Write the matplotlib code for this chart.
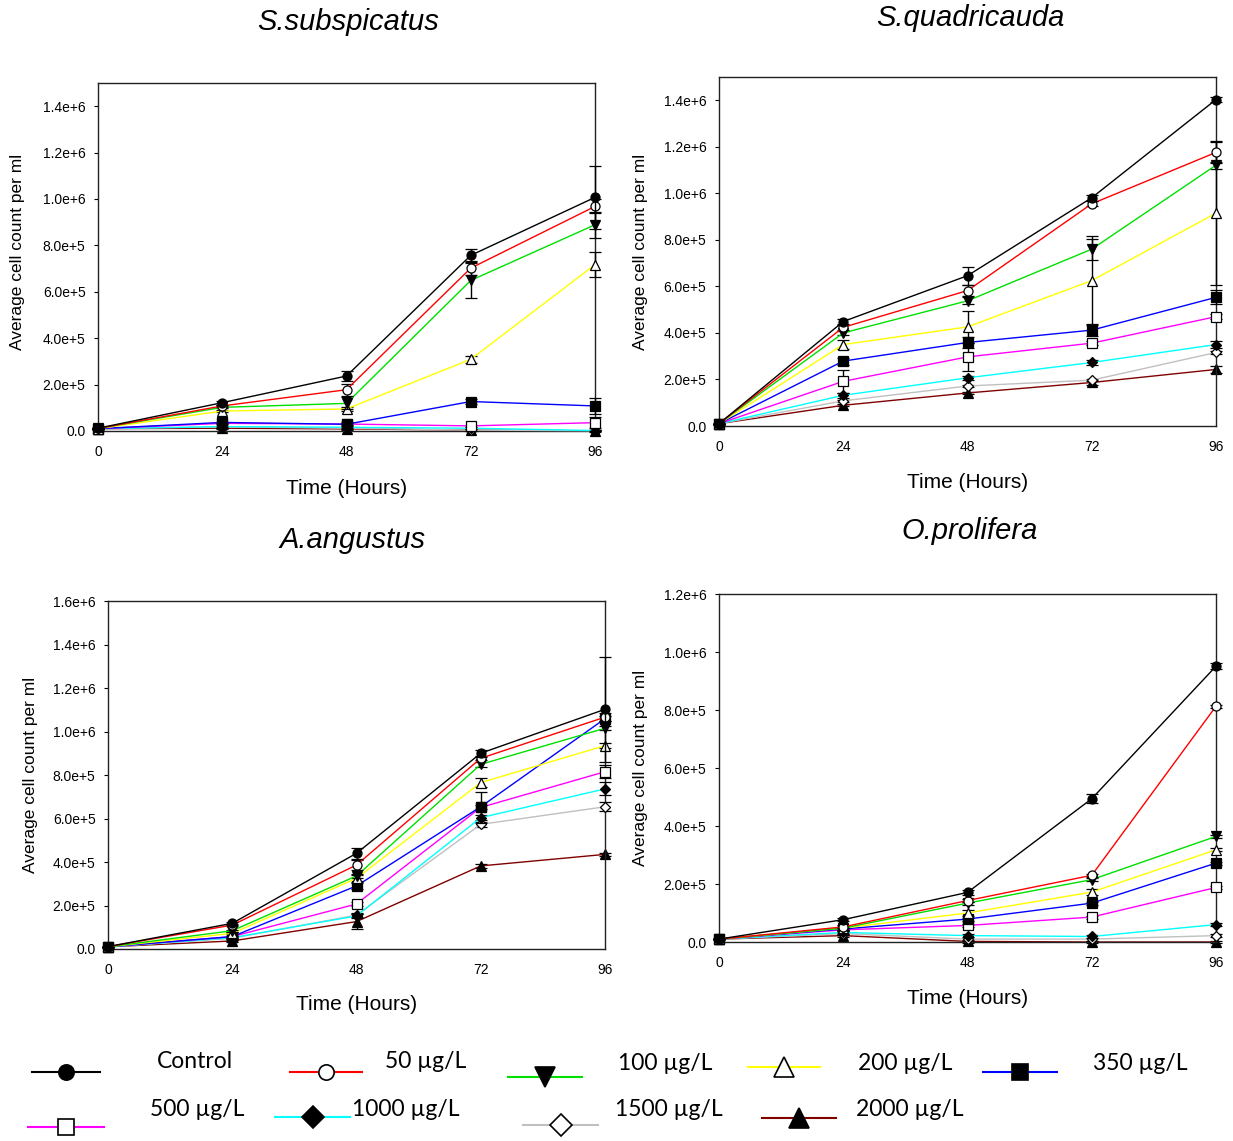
import matplotlib
matplotlib.use('Agg')
import matplotlib.pyplot as plt
from matplotlib.lines import Line2D
from matplotlib.ticker import FuncFormatter
import numpy as np

plt.rcParams['font.family'] = ['Liberation Sans', 'DejaVu Sans']

# data ---------------------------------------------------------------------
hours = [0, 24, 48, 72, 96]
labels = ['Control', '50 µg/L', '100 µg/L', '200 µg/L', '350 µg/L',
          '500 µg/L', '1000 µg/L', '1500 µg/L', '2000 µg/L']
colors = ['#000000', '#ff0000', '#00e000', '#ffff00', '#0000ff',
          '#ff00ff', '#00ffff', '#c0c0c0', '#800000']
markers = ['o', 'o', 'v', '^', 's', 's', 'D', 'D', '^']
faces = ['black', 'white', 'black', 'white', 'black',
         'white', 'black', 'white', 'black']

# S.subspicatus
ss_mean = [[1.2e4, 1.22e5, 2.37e5, 7.57e5, 1.007e6],
           [1.1e4, 1.08e5, 1.78e5, 7.02e5, 9.68e5],
           [1.1e4, 1.02e5, 1.19e5, 6.49e5, 8.89e5],
           [1.0e4, 8.6e4, 9.5e4, 3.09e5, 7.17e5],
           [1.0e4, 3.7e4, 2.9e4, 1.27e5, 1.08e5],
           [1.0e4, 3.3e4, 3.0e4, 2.2e4, 3.6e4],
           [1.0e4, 1.9e4, 1.6e4, 1.2e4, 2.0e3],
           [1.0e4, 1.8e4, 1.2e4, 4.0e3, 1.0e3],
           [1.0e4, 1.2e4, 9.0e3, 4.0e3, 0.0]]
ss_err = [[0, 8e3, 2.3e4, 2.8e4, 1.35e5],
          [0, 5e3, 2.5e4, 3.0e4, 3.0e4],
          [0, 5e3, 2.6e4, 7.5e4, 5.5e4],
          [0, 5e3, 1.0e4, 1.5e4, 5.5e4],
          [0, 3e3, 5e3, 1.0e4, 3.5e4],
          [0, 3e3, 1.0e4, 5e3, 2.5e4],
          [0, 3e3, 3e3, 3e3, 3e3],
          [0, 3e3, 3e3, 3e3, 3e3],
          [0, 3e3, 3e3, 3e3, 3e3]]

# S.quadricauda
sq_mean = [[1.0e4, 4.49e5, 6.46e5, 9.81e5, 1.403e6],
           [1.0e4, 4.24e5, 5.82e5, 9.55e5, 1.176e6],
           [1.0e4, 4.0e5, 5.38e5, 7.6e5, 1.121e6],
           [1.0e4, 3.5e5, 4.26e5, 6.25e5, 9.15e5],
           [1.0e4, 2.79e5, 3.59e5, 4.12e5, 5.53e5],
           [1.0e4, 1.92e5, 2.97e5, 3.56e5, 4.7e5],
           [1.0e4, 1.32e5, 2.07e5, 2.73e5, 3.5e5],
           [1.0e4, 1.08e5, 1.72e5, 1.97e5, 3.16e5],
           [1.0e4, 8.9e4, 1.42e5, 1.87e5, 2.43e5]]
sq_err = [[0, 1.2e4, 3.9e4, 1.2e4, 1.2e4],
          [0, 1.0e4, 2.5e4, 1.0e4, 4.5e4],
          [0, 1.0e4, 1.5e4, 4.5e4, 1.5e4],
          [0, 2.0e4, 7.0e4, 1.9e5, 3.1e5],
          [0, 1.5e4, 2.5e4, 2.5e4, 3.0e4],
          [0, 5.0e4, 6.0e4, 1.0e4, 1.0e4],
          [0, 1.0e4, 1.0e4, 1.0e4, 1.5e4],
          [0, 5e3, 5e3, 5e3, 5e3],
          [0, 5e3, 5e3, 1.0e4, 1.5e4]]

# A.angustus
aa_mean = [[1.1e4, 1.18e5, 4.4e5, 9.0e5, 1.102e6],
           [1.1e4, 1.1e5, 3.86e5, 8.77e5, 1.066e6],
           [1.0e4, 8.4e4, 3.36e5, 8.49e5, 1.015e6],
           [1.0e4, 7.2e4, 3.25e5, 7.65e5, 9.35e5],
           [1.0e4, 5.7e4, 2.9e5, 6.54e5, 1.059e6],
           [1.0e4, 5.7e4, 2.07e5, 6.51e5, 8.15e5],
           [1.0e4, 5.2e4, 1.52e5, 6.04e5, 7.36e5],
           [1.0e4, 4.9e4, 1.56e5, 5.73e5, 6.54e5],
           [1.0e4, 3.7e4, 1.26e5, 3.82e5, 4.35e5]]
aa_err = [[0, 8e3, 2.5e4, 1.5e4, 2.4e5],
          [0, 5e3, 2.5e4, 1.0e4, 2.0e4],
          [0, 5e3, 1.0e4, 1.0e4, 1.0e4],
          [0, 5e3, 1.5e4, 2.0e4, 1.0e4],
          [0, 5e3, 1.5e4, 1.0e4, 1.0e4],
          [0, 5e3, 1.0e4, 7.0e4, 3.0e4],
          [0, 5e3, 1.0e4, 1.0e4, 3.0e4],
          [0, 5e3, 1.0e4, 1.0e4, 2.0e4],
          [0, 5e3, 3.5e4, 1.0e4, 8e3]]

# O.prolifera
op_mean = [[1.0e4, 7.7e4, 1.71e5, 4.94e5, 9.51e5],
           [1.0e4, 5.2e4, 1.43e5, 2.3e5, 8.13e5],
           [1.0e4, 4.8e4, 1.34e5, 2.15e5, 3.64e5],
           [1.0e4, 4.8e4, 1.0e5, 1.72e5, 3.18e5],
           [1.0e4, 4.5e4, 7.9e4, 1.34e5, 2.72e5],
           [1.0e4, 4.2e4, 5.7e4, 8.6e4, 1.88e5],
           [1.0e4, 3.3e4, 2.2e4, 1.9e4, 6.0e4],
           [1.0e4, 2.9e4, 1.0e4, 1.0e4, 2.2e4],
           [1.0e4, 2.2e4, 2.0e3, 0.0, 0.0]]
op_err = [[0, 5e3, 8e3, 1.5e4, 1.0e4],
          [0, 5e3, 5e3, 5e3, 5e3],
          [0, 5e3, 5e3, 5e3, 5e3],
          [0, 5e3, 1.0e4, 1.0e4, 5e3],
          [0, 5e3, 5e3, 5e3, 5e3],
          [0, 5e3, 5e3, 5e3, 5e3],
          [0, 5e3, 5e3, 5e3, 5e3],
          [0, 5e3, 5e3, 5e3, 5e3],
          [0, 5e3, 5e3, 5e3, 5e3]]

titles = ['S.subspicatus', 'S.quadricauda', 'A.angustus', 'O.prolifera']
means = [ss_mean, sq_mean, aa_mean, op_mean]
errs = [ss_err, sq_err, aa_err, op_err]
ymax = [1.5e6, 1.5e6, 1.6e6, 1.2e6]
ytop = [1.4e6, 1.4e6, 1.6e6, 1.2e6]

# layout (pixels) ------------------------------------------------------------
W, H = 1233, 1141
fig = plt.figure(figsize=(W / 100, H / 100), dpi=100)


def fx(x):
    return x / W


def fy(y):
    return 1 - y / H


# left, top, right, bottom of each plot frame
frames = [(98, 83, 595, 431), (719, 77, 1216, 426),
          (108, 601, 605, 949), (719, 594, 1216, 942)]
title_pos = [(348, 22), (970, 18), (352, 540), (970, 531)]
xlab_pos = [(347, 488), (968, 482), (357, 1005), (968, 999)]
ylab_pos = [(18, 252), (641, 252), (30, 775), (641, 768)]


def sci(v, pos):
    if v == 0:
        return '0.0'
    e = int(np.floor(np.log10(v) + 1e-9))
    return f'{v / 10 ** e:.1f}e+{e}'


for i in range(4):
    l, t, r, b = frames[i]
    ax = fig.add_axes([fx(l), fy(b), (r - l) / W, (b - t) / H])
    for k in range(9):
        ax.errorbar(hours, means[i][k], yerr=errs[i][k], color=colors[k],
                    lw=1.0, ecolor='black', elinewidth=1.0, capsize=4,
                    capthick=1.0, marker=markers[k],
                    ms=6.5 if markers[k] != 'D' else 5.5,
                    mfc=faces[k], mec='black', mew=0.9,
                    clip_on=False, zorder=10 - k)
    ax.set_xlim(0, 96)
    ax.set_ylim(0, ymax[i])
    ax.set_xticks(hours)
    ax.set_yticks(np.arange(0, ytop[i] + 1, 2e5))
    ax.yaxis.set_major_formatter(FuncFormatter(sci))
    ax.tick_params(axis='y', direction='out', length=3, width=0.8,
                   pad=6, labelsize=10)
    ax.tick_params(axis='x', direction='out', length=0, pad=10,
                   labelsize=10)
    for s in ax.spines.values():
        s.set_linewidth(1.0)
        s.set_color('#222222')

    fig.text(fx(title_pos[i][0]), fy(title_pos[i][1]), titles[i],
             fontsize=21, style='italic', ha='center', va='center')
    fig.text(fx(xlab_pos[i][0]), fy(xlab_pos[i][1]), 'Time (Hours)',
             fontsize=15, ha='center', va='center')
    fig.text(fx(ylab_pos[i][0]), fy(ylab_pos[i][1]),
             'Average cell count per ml', fontsize=12.5,
             rotation=90, ha='center', va='center')

# legend drawn below the plots ----------------------------------------------
# handle line x-range, line y, text left x, text y
leg_pos = [(32, 100, 1072, 157, 1062),
           (290, 362, 1072, 385, 1062),
           (508, 582, 1077, 618, 1063),
           (748, 820, 1067, 858, 1063),
           (983, 1057, 1072, 1093, 1063),
           (28, 104, 1127, 150, 1109),
           (275, 350, 1117, 352, 1109),
           (523, 598, 1125, 615, 1109),
           (762, 836, 1118, 856, 1109)]
leg_ms = {'o': 11, 's': 11, 'v': 14, '^': 14, 'D': 11}
for k in range(9):
    x0, x1, yl, xt, yt = leg_pos[k]
    fig.add_artist(Line2D([fx(x0), fx(x1)], [fy(yl), fy(yl)],
                          transform=fig.transFigure, color=colors[k], lw=1.5))
    fig.add_artist(Line2D([fx((x0 + x1) / 2)], [fy(yl)],
                          transform=fig.transFigure, marker=markers[k],
                          ms=leg_ms[markers[k]],
                          mfc=faces[k], mec='black', mew=1.2, ls='none'))
    fig.text(fx(xt), fy(yt), labels[k], fontsize=16.5,
             family=['Lato', 'DejaVu Sans'], ha='left', va='center')

fig.savefig('out.png', dpi=100)
